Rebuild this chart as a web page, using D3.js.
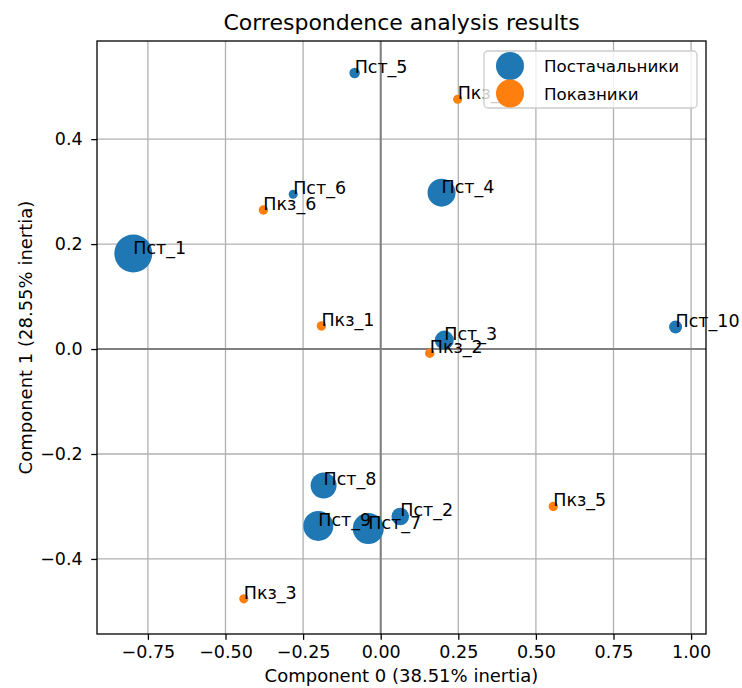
<!DOCTYPE html>
<html>
<head>
<meta charset="utf-8">
<script src="https://cdn.jsdelivr.net/npm/d3@7"></script>
<style>
  body { margin: 0; background: #fff; }
  svg { display: block; }
</style>
</head>
<body>
<div id="chart"></div>
<script>
// Постачальники (row points)
const supplierNames = ["Пст_1", "Пст_2", "Пст_3", "Пст_4", "Пст_5", "Пст_6", "Пст_7", "Пст_8", "Пст_9", "Пст_10"];
const supplierX = [-0.797, 0.063, 0.205, 0.196, -0.084, -0.282, -0.040, -0.184, -0.201, 0.950];
const supplierY = [0.182, -0.319, 0.017, 0.298, 0.526, 0.295, -0.342, -0.260, -0.337, 0.042];
const supplierMass = [520, 111, 130, 282, 40, 29, 346, 243, 324, 61];

// Показники (column points)
const indicatorNames = ["Пкз_1", "Пкз_2", "Пкз_3", "Пкз_4", "Пкз_5", "Пкз_6"];
const indicatorX = [-0.191, 0.158, -0.441, 0.248, 0.556, -0.378];
const indicatorY = [0.044, -0.008, -0.476, 0.476, -0.300, 0.265];
const indicatorMass = [32, 32, 30, 30, 32, 32];

const xTicks = [-0.75, -0.5, -0.25, 0, 0.25, 0.5, 0.75, 1.0];
const yTicks = [-0.4, -0.2, 0, 0.2, 0.4];
const xDomain = [-0.914, 1.048];
const yDomain = [-0.543, 0.587];

const seriesNames = ["Постачальники", "Показники"];
const colors = ["#1f77b4", "#ff7f0e"];

const width = 742, height = 688;
const margin = {top: 41, right: 36, bottom: 54, left: 97};
const font = "'DejaVu Sans', sans-serif";
const fs = "17.5px";

const svg = d3.select("#chart").append("svg")
  .attr("width", width)
  .attr("height", height)
  .style("font-family", font);

const x = d3.scaleLinear().domain(xDomain).range([margin.left, width - margin.right]);
const y = d3.scaleLinear().domain(yDomain).range([height - margin.bottom, margin.top]);
const r = d3.scaleSqrt().domain([0, 520]).range([0, 19]);

const minus = s => s.replace("-", "\u2212");

// Grid
svg.append("g")
  .selectAll("line")
  .data(xTicks)
  .join("line")
    .attr("x1", d => x(d)).attr("x2", d => x(d))
    .attr("y1", margin.top).attr("y2", height - margin.bottom)
    .attr("stroke", "#b0b0b0")
    .attr("stroke-width", 1.3);

svg.append("g")
  .selectAll("line")
  .data(yTicks)
  .join("line")
    .attr("x1", margin.left).attr("x2", width - margin.right)
    .attr("y1", d => y(d)).attr("y2", d => y(d))
    .attr("stroke", "#b0b0b0")
    .attr("stroke-width", 1.3);

// Zero lines
svg.append("line")
  .attr("x1", margin.left).attr("x2", width - margin.right)
  .attr("y1", y(0)).attr("y2", y(0))
  .attr("stroke", "#7f7f7f").attr("stroke-width", 2);
svg.append("line")
  .attr("x1", x(0)).attr("x2", x(0))
  .attr("y1", margin.top).attr("y2", height - margin.bottom)
  .attr("stroke", "#7f7f7f").attr("stroke-width", 2);

// Points
const suppliers = supplierNames.map((n, i) => ({name: n, x: supplierX[i], y: supplierY[i], m: supplierMass[i]}));
const indicators = indicatorNames.map((n, i) => ({name: n, x: indicatorX[i], y: indicatorY[i], m: indicatorMass[i]}));

[suppliers, indicators].forEach((set, k) => {
  svg.append("g")
    .selectAll("circle")
    .data(set)
    .join("circle")
      .attr("cx", d => x(d.x))
      .attr("cy", d => y(d.y))
      .attr("r", d => r(d.m))
      .attr("fill", colors[k]);
});

// Point labels
svg.append("g")
  .selectAll("text")
  .data(suppliers.concat(indicators))
  .join("text")
    .attr("x", d => x(d.x))
    .attr("y", d => y(d.y))
    .attr("font-size", fs)
    .attr("fill", "#000")
    .text(d => d.name);

// Axes
const xAxis = svg.append("g")
  .attr("transform", `translate(0,${height - margin.bottom})`)
  .call(d3.axisBottom(x).tickValues(xTicks).tickSize(5.8).tickPadding(5.8)
    .tickFormat(d => minus(d3.format(".2f")(d))));

const yAxis = svg.append("g")
  .attr("transform", `translate(${margin.left},0)`)
  .call(d3.axisLeft(y).tickValues(yTicks).tickSize(5.8).tickPadding(8.5)
    .tickFormat(d => minus(d3.format(".1f")(d))));

[xAxis, yAxis].forEach(a => {
  a.select(".domain").remove();
  a.selectAll("line").attr("stroke", "#000").attr("stroke-width", 1.3);
  a.selectAll("text").attr("font-size", fs).attr("font-family", font).attr("fill", "#000");
});

// Frame
svg.append("rect")
  .attr("x", margin.left)
  .attr("y", margin.top)
  .attr("width", width - margin.left - margin.right)
  .attr("height", height - margin.top - margin.bottom)
  .attr("fill", "none")
  .attr("stroke", "#000")
  .attr("stroke-width", 1.3);

// Legend
const legend = svg.append("g").attr("transform", "translate(484,51)");
legend.append("rect")
  .attr("width", 213)
  .attr("height", 57)
  .attr("rx", 4)
  .attr("fill", "#fff")
  .attr("fill-opacity", 0.8)
  .attr("stroke", "#cccccc")
  .attr("stroke-width", 1.3);

legend.selectAll("circle")
  .data(seriesNames)
  .join("circle")
    .attr("cx", 26)
    .attr("cy", (d, i) => 15 + i * 27.5)
    .attr("r", 14)
    .attr("fill", (d, i) => colors[i]);

legend.selectAll("text")
  .data(seriesNames)
  .join("text")
    .attr("x", 60)
    .attr("y", (d, i) => 21 + i * 27.5)
    .attr("font-size", "16.7px")
    .attr("fill", "#000")
    .text(d => d);

// Titles
svg.append("text")
  .attr("x", (margin.left + width - margin.right) / 2)
  .attr("y", 30)
  .attr("text-anchor", "middle")
  .attr("font-size", "22px")
  .text("Correspondence analysis results");

svg.append("text")
  .attr("x", (margin.left + width - margin.right) / 2)
  .attr("y", 682)
  .attr("text-anchor", "middle")
  .attr("font-size", "18px")
  .text("Component 0 (38.51% inertia)");

svg.append("text")
  .attr("transform", `translate(32,${(margin.top + height - margin.bottom) / 2}) rotate(-90)`)
  .attr("text-anchor", "middle")
  .attr("font-size", "18px")
  .text("Component 1 (28.55% inertia)");
</script>
</body>
</html>
